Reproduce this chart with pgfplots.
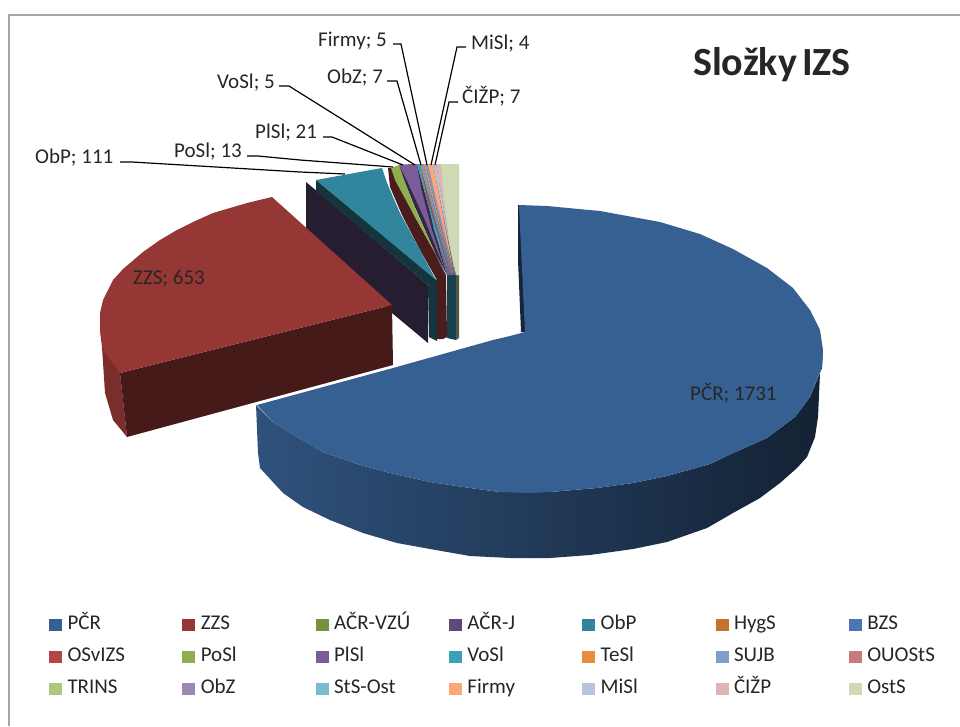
\documentclass[border=0pt]{standalone}
\usepackage{pgfplots}
\pgfplotsset{compat=1.18}
\usepackage{fontspec}
\setmainfont{Carlito}
\definecolor{txt}{HTML}{262626}
\definecolor{frame}{HTML}{A6A6A6}
\definecolor{cPCR}{HTML}{376092}
\definecolor{cZZS}{HTML}{953735}
\definecolor{cVZU}{HTML}{76923C}
\definecolor{cACRJ}{HTML}{5F497A}
\definecolor{cObP}{HTML}{31859C}
\definecolor{cHyg}{HTML}{C4732B}
\definecolor{cBZS}{HTML}{4A76B5}
\definecolor{cOSv}{HTML}{B24644}
\definecolor{cPoSl}{HTML}{90AE4F}
\definecolor{cPlSl}{HTML}{7A5C99}
\definecolor{cVoSl}{HTML}{3BA0B8}
\definecolor{cTeSl}{HTML}{E98C3C}
\definecolor{cSUJB}{HTML}{7F9DCB}
\definecolor{cOUO}{HTML}{C97B7B}
\definecolor{cTRINS}{HTML}{AEC77F}
\definecolor{cObZ}{HTML}{9C88B5}
\definecolor{cStS}{HTML}{7ABBD0}
\definecolor{cFirmy}{HTML}{F9A878}
\definecolor{cMiSl}{HTML}{B8C3DD}
\definecolor{cCIZP}{HTML}{DEB5B4}
\definecolor{cOstS}{HTML}{CDDAB5}
\newcommand{\E}[1]{\makebox[114.8pt][l]{#1}}
\newcommand{\Z}[1]{\makebox[72pt][l]{#1}}
\begin{document}
\begin{tikzpicture}
\begin{axis}[
  width=960pt, height=726pt, scale only axis,
  xmin=0, xmax=960, ymin=0, ymax=726, y dir=reverse,
  axis lines=none,
  legend columns=7,
  legend cell align=left,
  legend image code/.code={\fill[#1] (0pt,-6pt) rectangle (13pt,6.5pt);},
  legend style={at={(axis cs:49,616)}, anchor=north west, draw=none, fill=none,
    inner sep=0pt, outer sep=0pt, row sep=14pt, text=txt,
    font=\fontsize{21}{23}\selectfont,
    nodes={inner sep=0pt, outer sep=0pt, text height=13pt, text depth=5pt},
    /tikz/every odd column/.style={column sep=5.5pt}},
  every axis plot/.append style={draw=none},
]
\path (axis cs:0,0) rectangle (axis cs:960,726);
% frame
\addplot[draw=frame, line width=1.3pt, forget plot] coordinates {(9,726)(9,15)(960,15)};

% side walls, back to front
\addplot[forget plot, draw=none, shading=axis, left color=cPCR!85!black, middle color=cPCR!52!black, right color=cPCR!35!black, shading angle=90] coordinates {
 (256,405)(273,422)(297,437)(323,452)(357,464)(390,473)(430,482)(470,488)(500,492)(550,492)(597,488)(633,483)(667,476)(710,464)(733,453)(767,438)(795,417)(810,397)(822,368)(823,350)
 (820,373)(818,417)(815,437)(807,457)(797,468)(780,483)(760,498)(733,513)(707,528)(667,542)(633,549)(590,555)(550,558)(510,558)(470,556)(430,549)(397,543)(363,533)(330,520)(303,507)(283,493)(260,468)(258,453)
} --cycle;
\addplot[forget plot, fill=cPCR!40!black] coordinates {(518,205)(518,260)(521,332)(526,332)(520,205)} --cycle;
\addplot[forget plot, fill=cACRJ!40!black] coordinates {(306,182)(428,285)(428,343)(392,313)(306,232)} --cycle;
\addplot[forget plot, fill=cObP!40!black] coordinates {(316,180)(316,191)(428,285)(429,337)(437,341)(437,280)} --cycle;
\addplot[forget plot, fill=cZZS!50!black] coordinates {(388,168)(392,168)(415,217)(435,253)(446,275)(447,337)(443,339)(437,339)(437,280)(420,250)(402,215)(390,187)} --cycle;
\addplot[forget plot, fill=cACRJ!55!black] coordinates {(399,165)(417,164)(447,275)(436,255)(414,205)(402,175)} --cycle;
\addplot[forget plot, fill=cVoSl!40!black] coordinates {(447,270)(456,270)(456,340)(447,338)} --cycle;
\addplot[forget plot, fill=cOstS!40!black] coordinates {(456,272)(459,275)(459,338)(456,340)} --cycle;
\addplot[forget plot, fill=cObZ!70!black] coordinates {(417,164)(441,164)(456,275)(447,275)} --cycle;
\addplot[forget plot, fill=cOstS!40!black] coordinates {(441,170)(444,170)(450,215)(456,275)(453,272)(445,217)} --cycle;
\addplot[forget plot, fill=cZZS!82!black] coordinates {(100,330)(120,373)(127,437)(113,420)(105,393)(102,347)} --cycle;
\addplot[forget plot, fill=cZZS!47!black] coordinates {(120,373)(392,305)(393,365)(127,437)} --cycle;

% top faces, one series per legend entry
\addplot[fill=cPCR] coordinates {
 (519,205)(547,206)(600,211)(660,222)(700,234)(733,249)(767,268)(793,288)(810,310)(820,330)(823,350)(822,367)(810,397)(795,417)(767,438)(733,453)(710,464)(667,476)(633,483)(597,488)(550,492)(530,493)(500,492)(470,488)(430,482)(390,473)(357,464)(323,452)(297,437)(273,422)(257,405)(393,368)(493,340)(510,336)(525,332)
} --cycle; \addlegendentry{\E{PČR}}
\addplot[fill=cZZS] coordinates {
 (272,197)(247,203)(213,213)(193,222)(177,230)(160,240)(143,252)(123,269)(113,280)(103,300)(100,313)(100,330)(103,350)(120,373)(392,305)
} --cycle; \addlegendentry{\E{ZZS}}
\addplot[fill=cVZU] coordinates {(428,285)(429,285)(428,284)} --cycle; \addlegendentry{\E{AČR-VZÚ}}
\addplot[fill=cACRJ] coordinates {(428,285)(429,285)(428,284)} --cycle; \addlegendentry{\E{AČR-J}}
\addplot[fill=cObP] coordinates {(316,180)(382,168)(387,183)(400,213)(420,250)(436,280)} --cycle; \addlegendentry{\E{ObP}}
\addplot[fill=cHyg] coordinates {(436,280)(437,279)(436,278)} --cycle; \addlegendentry{\E{HygS}}
\addplot[fill=cBZS] coordinates {(436,280)(437,279)(436,278)} --cycle; \addlegendentry{\Z{BZS}}
\addplot[fill=cOSv] coordinates {(436,280)(437,279)(436,278)} --cycle; \addlegendentry{\E{OSvIZS}}
\addplot[fill=cPoSl] coordinates {(391,168)(399,165)(405,183)(417,213)(437,257)(445,275)(435,253)(415,217)(395,180)} --cycle; \addlegendentry{\E{PoSl}}
\addplot[fill=cPlSl] coordinates {(399,165)(417,164)(421,188)(432,230)(446,273)(425,220)(408,183)} --cycle; \addlegendentry{\E{PlSl}}
\addplot[fill=cVoSl] coordinates {(417,164)(420,164)(434,230)(449,273)} --cycle; \addlegendentry{\E{VoSl}}
\addplot[fill=cTeSl] coordinates {(420,164)(421,164)(450,273)} --cycle; \addlegendentry{\E{TeSl}}
\addplot[fill=cSUJB] coordinates {(421,164)(423,164)(451,273)} --cycle; \addlegendentry{\E{SUJB}}
\addplot[fill=cOUO] coordinates {(423,164)(424,164)(452,273)} --cycle; \addlegendentry{\Z{OUOStS}}
\addplot[fill=cTRINS] coordinates {(424,164)(425,164)(452,273)} --cycle; \addlegendentry{\E{TRINS}}
\addplot[fill=cObZ] coordinates {(425,164)(428,164)(453,273)} --cycle; \addlegendentry{\E{ObZ}}
\addplot[fill=cStS] coordinates {(428,164)(429,164)(453,273)} --cycle; \addlegendentry{\E{StS-Ost}}
\addplot[fill=cFirmy] coordinates {(428,164)(433,164)(454,273)} --cycle; \addlegendentry{\E{Firmy}}
\addplot[fill=cMiSl] coordinates {(433,164)(436,164)(455,273)} --cycle; \addlegendentry{\E{MiSl}}
\addplot[fill=cCIZP] coordinates {(436,164)(441,164)(455,273)} --cycle; \addlegendentry{\E{ČIŽP}}
\addplot[fill=cOstS] coordinates {(441,164)(459,164)(459,275)(456,275)(450,247)(444,200)} --cycle; \addlegendentry{\Z{OstS}}

% leader lines
\addplot[draw=black, line width=1.2pt, forget plot] coordinates {(120,162)(132,162)(300,172)(345,174)};
\addplot[draw=black, line width=1.2pt, forget plot] coordinates {(247,156)(258,156)(300,160)(393,167)};
\addplot[draw=black, line width=1.2pt, forget plot] coordinates {(323,137)(332,137)(403,165)};
\addplot[draw=black, line width=1.2pt, forget plot] coordinates {(279,86)(289,86)(415,165)};
\addplot[draw=black, line width=1.2pt, forget plot] coordinates {(387,81)(397,81)(421,165)};
\addplot[draw=black, line width=1.2pt, forget plot] coordinates {(393,44)(401,44)(427,165)};
\addplot[draw=black, line width=1.2pt, forget plot] coordinates {(466,47)(457,47)(431,165)};
\addplot[draw=black, line width=1.2pt, forget plot] coordinates {(458,102)(449,102)(435,165)};

% labels
\tikzset{lab/.style={anchor=base west, inner sep=0pt, text=txt, font=\fontsize{21}{23}\selectfont}}
\node[lab] at (axis cs:35,163.5) {ObP; 111};
\node[lab] at (axis cs:174,157) {PoSl; 13};
\node[lab] at (axis cs:255,138) {PlSl; 21};
\node[lab] at (axis cs:217,88) {VoSl; 5};
\node[lab] at (axis cs:327,83) {ObZ; 7};
\node[lab] at (axis cs:318,46) {Firmy; 5};
\node[lab] at (axis cs:471,49) {MiSl; 4};
\node[lab] at (axis cs:462,103) {ČIŽP; 7};
\node[lab] at (axis cs:690,400) {PČR; 1731};
\node[lab] at (axis cs:133,284) {ZZS; 653};
\node[anchor=base west, inner sep=0pt, text=txt, font=\fontsize{40}{44}\selectfont\bfseries] at (axis cs:693,75) {Složky\hspace{-4pt} IZS};
\end{axis}
\end{tikzpicture}
\end{document}
